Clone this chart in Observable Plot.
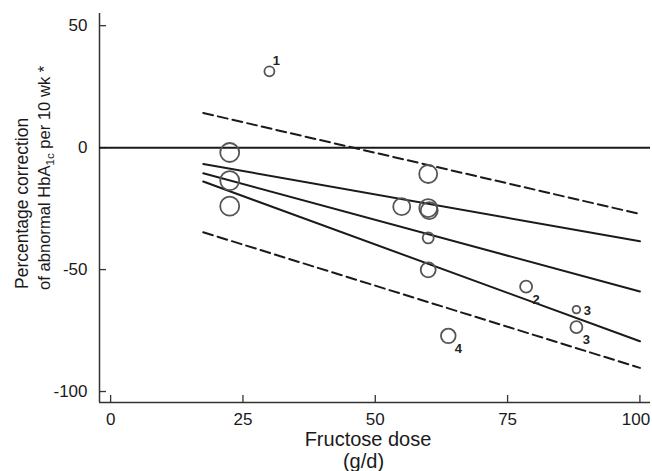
<!DOCTYPE html>
<html><head><meta charset="utf-8">
<script src="https://cdn.jsdelivr.net/npm/d3@7"></script>
<script src="https://cdn.jsdelivr.net/npm/@observablehq/plot@0.6"></script>
<style>
  html,body{margin:0;padding:0;background:#fff;}
  #chart{width:652px;height:471px;}
</style>
</head><body>
<div id="chart"></div>
<script>
// ---- data ----
const doseX        = [22.5, 22.5, 22.5, 30,   55,    60,    60,    60.2,  60,  60,    78.5, 88,    88,    63.8];
const correctionY  = [-2,  -13.5, -24,  31.3, -24.2, -10.8, -24.8, -25.8, -37, -50.1, -57,  -66.4, -73.6, -77.2];
const studyWeight  = [9.5,  9.5,  9.5,  5,    8.5,   9,     9,     8.5,   5.5, 7.5,   6,    3.8,   6,     7.3];
const studyNote    = ["",   "",   "",   "1",  "",    "",    "",    "",    "",  "",    "2",  "3",   "3",   "4"];
const notePlace    = ["",   "",   "",   "ne", "",    "",    "",    "",    "",  "",    "se", "e",   "se",  "se"];

const lineX     = [17.5, 100];
const fitY      = [-10.5, -59];
const ciUpperY  = [-6.7, -38.4];
const ciLowerY  = [-13.9, -79.4];
const piUpperY  = [14.2, -27.2];
const piLowerY  = [-34.7, -90.3];

const xTicks = [0, 25, 50, 75, 100];
const yTicks = [-100, -50, 0, 50];
const xDomain = [-2.1, 102];
const yDomain = [-104.5, 55];

// ---- tables built from the arrays ----
const points = doseX.map((x, i) => ({x, y: correctionY[i], r: studyWeight[i], note: studyNote[i], place: notePlace[i]}));
const lines = lineX.map((x, i) => ({x, fit: fitY[i], ciU: ciUpperY[i], ciL: ciLowerY[i], piU: piUpperY[i], piL: piLowerY[i]}));

const W = 652, H = 471, mL = 99, mR = 2, mT = 13, mB = 69, tick = 7;
const ink = "#1a1a1a";
const fmt = d => String(d);
const noteStyle = {x: "x", y: "y", text: "note", fontSize: 13, fill: "#222", fontWeight: 600};

const plot = Plot.plot({
  width: W,
  height: H,
  marginLeft: mL,
  marginRight: mR,
  marginTop: mT,
  marginBottom: mB,
  style: {fontFamily: "'Liberation Sans', Arial, sans-serif", fontSize: "17px", color: ink, background: "#fff"},
  x: {domain: xDomain},
  y: {domain: yDomain},
  r: {type: "identity"},
  marks: [
    Plot.ruleX([xDomain[0]], {stroke: "#333", strokeWidth: 1.5}),
    Plot.ruleY([yDomain[0]], {stroke: "#333", strokeWidth: 1.5}),
    // inward tick marks
    Plot.tickX(xTicks, {x: d => d, stroke: "#333", strokeWidth: 1.3, insetTop: (H - mT - mB) - tick}),
    Plot.tickY(yTicks, {y: d => d, stroke: "#333", strokeWidth: 1.3, insetRight: (W - mL - mR) - tick}),
    // tick labels
    Plot.axisX(xTicks.filter(d => d !== 100), {tickSize: 0, tickPadding: 10, tickFormat: fmt, label: null, fill: ink}),
    Plot.axisX([100], {tickSize: 0, tickPadding: 10, tickFormat: fmt, label: null, fill: ink, dx: -4}),
    Plot.axisY(yTicks, {tickSize: 0, tickPadding: 12, tickFormat: fmt, label: null, fill: ink}),
    Plot.ruleY([0], {stroke: ink, strokeWidth: 2}),
    Plot.line(lines, {x: "x", y: "fit", stroke: ink, strokeWidth: 2}),
    Plot.line(lines, {x: "x", y: "ciU", stroke: ink, strokeWidth: 2}),
    Plot.line(lines, {x: "x", y: "ciL", stroke: ink, strokeWidth: 2}),
    Plot.line(lines, {x: "x", y: "piU", stroke: ink, strokeWidth: 2, strokeDasharray: "10,5"}),
    Plot.line(lines, {x: "x", y: "piL", stroke: ink, strokeWidth: 2, strokeDasharray: "10,5"}),
    Plot.dot(points, {x: "x", y: "y", r: "r", stroke: "#555", strokeWidth: 1.8, fill: "none"}),
    Plot.text(points.filter(d => d.place === "ne"), {...noteStyle, dx: 7, dy: -10}),
    Plot.text(points.filter(d => d.place === "se"), {...noteStyle, dx: 10, dy: 13}),
    Plot.text(points.filter(d => d.place === "e"), {...noteStyle, dx: 11, dy: 1.5})
  ]
});

// axis titles (real text)
const svg = d3.select(plot);
const titles = svg.append("g").attr("fill", ink);
const xt = titles.append("text")
  .attr("text-anchor", "middle").attr("font-size", 20);
xt.append("tspan").attr("x", 368).attr("y", 446).text("Fructose dose");
xt.append("tspan").attr("x", 363.5).attr("y", 467.6).text("(g/d)");

const yt = titles.append("g").attr("text-anchor", "start");
yt.append("text")
  .attr("transform", "translate(28,289) rotate(-90)")
  .attr("font-size", 17.5)
  .text("Percentage correction");
const t2 = yt.append("text")
  .attr("transform", "translate(50,290) rotate(-90)")
  .attr("font-size", 16.6);
t2.append("tspan").text("of abnormal HbA");
t2.append("tspan").attr("font-size", 11.5).attr("dy", 4).text("1c");
t2.append("tspan").attr("dy", -4).text(" per 10 wk *");

document.getElementById("chart").appendChild(plot);
</script>
</body></html>
